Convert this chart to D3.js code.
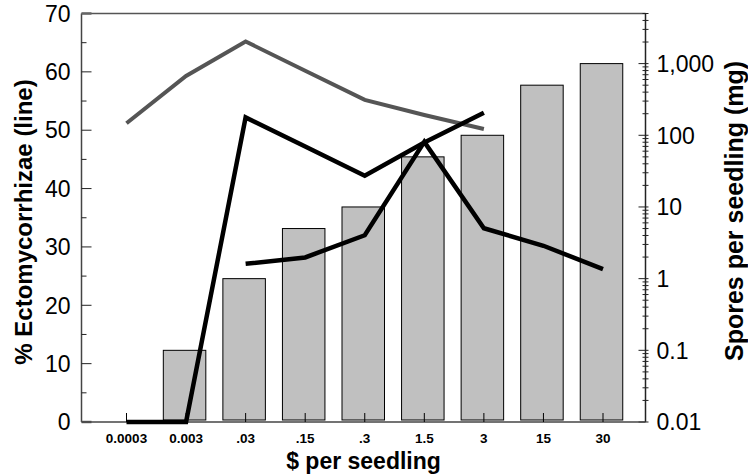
<!DOCTYPE html>
<html>
<head>
<meta charset="utf-8">
<script src="https://cdn.jsdelivr.net/npm/d3@7"></script>
<style>
  body { margin: 0; background: #fff; }
  svg text { font-family: "Liberation Sans", Arial, sans-serif; }
</style>
</head>
<body>
<svg id="chart" width="748" height="476"></svg>
<script>
// Daten
const categories = ["0.0003", "0.003", ".03", ".15", ".3", "1.5", "3", "15", "30"];
// Sporen pro Saemling (mg), rechte log-Achse
const sporeValues = [null, 0.1, 1, 5, 10, 50, 100, 500, 1000];
// % Ektomykorrhiza, linke Achse
const grayLine = [51.2, 59.3, 65.2, 60.2, 55.2, 52.6, 50.2, null, null];
const blackLine1 = [0, 0, 52.2, 47.2, 42.2, 47.9, 53.0, null, null];
const blackLine2 = [null, null, 27.1, 28.2, 32.0, 48.0, 33.2, 30.2, 26.2];
const leftTicks = [0, 10, 20, 30, 40, 50, 60, 70];
const rightTicks = [0.01, 0.1, 1, 10, 100, 1000];

const svg = d3.select("#chart");
const plotLeft = 81.5, plotRight = 645.5, plotTop = 13.5, plotBottom = 422;

// Skalen
const x = d3.scalePoint()
  .domain(categories)
  .range([plotLeft + 45, plotRight - 42.5]);

const yLeft = d3.scaleLinear()
  .domain([0, 70])
  .range([plotBottom, plotTop]);

const yRight = d3.scaleLog()
  .domain([0.01, 5000])
  .range([plotBottom, plotTop]);

const barWidth = 42.5;

// Balken (Sporen)
svg.append("g")
  .selectAll("rect")
  .data(categories.map((c, i) => ({ c: c, v: sporeValues[i] })).filter(d => d.v != null))
  .enter()
  .append("rect")
  .attr("x", d => x(d.c) - barWidth / 2 - 1.5)
  .attr("y", d => yRight(d.v))
  .attr("width", barWidth)
  .attr("height", d => plotBottom - 2 - yRight(d.v))
  .attr("fill", "#c0c0c0")
  .attr("stroke", "#000")
  .attr("stroke-width", 1);

// Rahmen oben
svg.append("line")
  .attr("x1", plotLeft).attr("x2", plotRight)
  .attr("y1", plotTop).attr("y2", plotTop)
  .attr("stroke", "#555").attr("stroke-width", 1.5);

// linke Achse
const gLeft = svg.append("g").attr("transform", `translate(${plotLeft},0)`);
gLeft.append("line")
  .attr("y1", plotTop).attr("y2", plotBottom)
  .attr("stroke", "#444").attr("stroke-width", 1.5);
gLeft.selectAll("line.minor")
  .data(d3.range(5, 70, 10))
  .enter().append("line")
  .attr("class", "minor")
  .attr("x1", 0).attr("x2", 5)
  .attr("y1", d => yLeft(d)).attr("y2", d => yLeft(d))
  .attr("stroke", "#222").attr("stroke-width", 1);
gLeft.selectAll("line.major")
  .data(leftTicks)
  .enter().append("line")
  .attr("class", "major")
  .attr("x1", 0).attr("x2", 10)
  .attr("y1", d => yLeft(d)).attr("y2", d => yLeft(d))
  .attr("stroke", d => (d === 0 || d === 70) ? "#666" : "#222")
  .attr("stroke-width", d => (d === 0 || d === 70) ? 2.5 : 1);
gLeft.selectAll("text")
  .data(leftTicks)
  .enter().append("text")
  .attr("x", -11)
  .attr("y", d => yLeft(d))
  .attr("dy", "0.36em")
  .attr("text-anchor", "end")
  .style("font-size", "23px")
  .text(d => d);

// rechte Achse (log)
const gRight = svg.append("g").attr("transform", `translate(${plotRight},0)`);
gRight.append("line")
  .attr("y1", plotTop).attr("y2", plotBottom)
  .attr("stroke", "#222").attr("stroke-width", 1.5);
const minorRight = [];
[0.01, 0.1, 1, 10, 100, 1000].forEach(function(base) {
  for (let k = 2; k <= 9; k++) {
    if (base * k <= 5000) minorRight.push(base * k);
  }
});
gRight.selectAll("line.minor")
  .data(minorRight)
  .enter().append("line")
  .attr("class", "minor")
  .attr("x1", -3).attr("x2", 3)
  .attr("y1", d => yRight(d)).attr("y2", d => yRight(d))
  .attr("stroke", "#222").attr("stroke-width", 1);
gRight.selectAll("line.major")
  .data(rightTicks)
  .enter().append("line")
  .attr("class", "major")
  .attr("x1", -7).attr("x2", 3)
  .attr("y1", d => yRight(d)).attr("y2", d => yRight(d))
  .attr("stroke", "#222").attr("stroke-width", 1);
gRight.selectAll("text")
  .data(rightTicks)
  .enter().append("text")
  .attr("x", 11)
  .attr("y", d => yRight(d))
  .attr("dy", "0.36em")
  .style("font-size", "23px")
  .text(d => d >= 1 ? d3.format(",")(d) : String(d));

// untere Achse
const gBottom = svg.append("g");
gBottom.append("line")
  .attr("x1", plotLeft).attr("x2", plotRight)
  .attr("y1", plotBottom).attr("y2", plotBottom)
  .attr("stroke", "#444").attr("stroke-width", 1.5);
gBottom.selectAll("line.tick")
  .data(categories)
  .enter().append("line")
  .attr("class", "tick")
  .attr("x1", d => x(d)).attr("x2", d => x(d))
  .attr("y1", plotBottom).attr("y2", plotBottom - 9)
  .attr("stroke", "#000").attr("stroke-width", 1);
gBottom.selectAll("text")
  .data(categories)
  .enter().append("text")
  .attr("x", d => x(d))
  .attr("y", plotBottom + 20.5)
  .attr("text-anchor", "middle")
  .style("font-size", "13.5px")
  .style("font-weight", "bold")
  .text(d => d);

// Linien
const line = d3.line()
  .defined(d => d.v != null)
  .x(d => x(d.c))
  .y(d => yLeft(d.v));

function drawLine(values, color, width) {
  svg.append("path")
    .datum(categories.map((c, i) => ({ c: c, v: values[i] })))
    .attr("d", line)
    .attr("fill", "none")
    .attr("stroke", color)
    .attr("stroke-width", width);
}
drawLine(grayLine, "#555555", 4);
drawLine(blackLine1, "#000", 4.5);
drawLine(blackLine2, "#000", 4.5);

// Achsentitel
svg.append("text")
  .attr("transform", `translate(${(plotLeft + plotRight) / 2},469)`)
  .attr("text-anchor", "middle")
  .style("font-size", "23px")
  .style("font-weight", "bold")
  .text("$ per seedling");

svg.append("text")
  .attr("transform", "translate(32,222) rotate(-90)")
  .attr("text-anchor", "middle")
  .style("font-size", "24px")
  .style("font-weight", "bold")
  .text("% Ectomycorrhizae (line)");

svg.append("text")
  .attr("transform", "translate(743,211) rotate(-90)")
  .attr("text-anchor", "middle")
  .style("font-size", "25px")
  .style("font-weight", "bold")
  .text("Spores per seedling (mg)");
</script>
</body>
</html>
